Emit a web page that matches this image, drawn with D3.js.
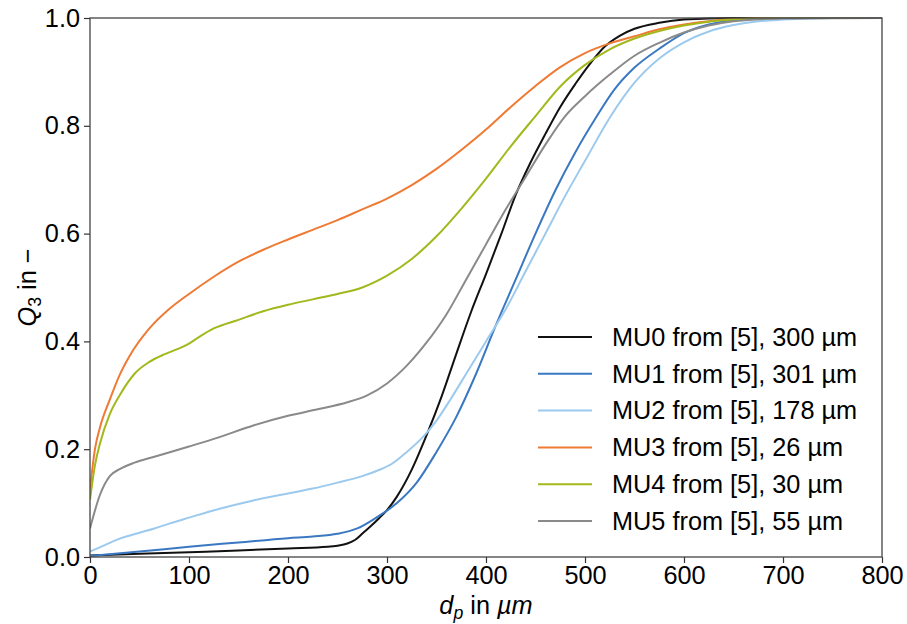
<!DOCTYPE html>
<html>
<head>
<meta charset="utf-8">
<script src="https://cdn.jsdelivr.net/npm/d3@7"></script>
<style>
  html, body { margin: 0; padding: 0; background: #fff; }
  svg text { font-family: "Liberation Sans", Arial, Helvetica, sans-serif; fill: #000; }
</style>
</head>
<body>
<svg id="chart" width="907" height="624"></svg>
<script>
// Particle size distributions Q3(dp) of the MU samples
const seriesNames = [
  "MU0 from [5], 300 µm",
  "MU1 from [5], 301 µm",
  "MU2 from [5], 178 µm",
  "MU3 from [5], 26 µm",
  "MU4 from [5], 30 µm",
  "MU5 from [5], 55 µm"
];
const seriesColors = ["#111111", "#3a78c2", "#9ccaee", "#ef7a34", "#a2b81c", "#8a8a8a"];

// [dp in µm, Q3] pairs
const mu0 = [[0,0.003],[50,0.006],[100,0.009],[150,0.012],[200,0.016],[240,0.019],[250,0.021],[260,0.025],[268,0.032],[276,0.045],[284,0.058],[292,0.072],[300,0.087],[310,0.112],[325,0.162],[340,0.226],[355,0.297],[370,0.377],[385,0.455],[400,0.525],[415,0.597],[430,0.672],[445,0.732],[460,0.785],[475,0.835],[490,0.877],[505,0.915],[520,0.947],[535,0.967],[550,0.98],[575,0.991],[600,0.997],[650,1.0],[800,1.0]];
const mu1 = [[0,0.002],[50,0.01],[100,0.019],[150,0.027],[200,0.035],[225,0.038],[250,0.043],[270,0.053],[290,0.074],[310,0.1],[330,0.138],[350,0.195],[370,0.26],[390,0.34],[410,0.43],[430,0.515],[450,0.6],[470,0.68],[490,0.75],[510,0.812],[530,0.868],[550,0.908],[575,0.943],[600,0.972],[625,0.988],[650,0.996],[700,1.0],[800,1.0]];
const mu2 = [[0,0.01],[15,0.022],[30,0.034],[50,0.045],[65,0.053],[80,0.062],[100,0.073],[130,0.089],[165,0.105],[200,0.118],[225,0.127],[250,0.138],[275,0.15],[290,0.16],[305,0.173],[320,0.195],[335,0.22],[350,0.253],[365,0.295],[380,0.34],[400,0.4],[420,0.46],[440,0.53],[460,0.6],[480,0.67],[500,0.735],[525,0.815],[550,0.88],[575,0.925],[600,0.955],[625,0.975],[650,0.987],[675,0.994],[700,0.997],[750,1.0],[800,1.0]];
const mu3 = [[0,0.125],[5,0.2],[10,0.24],[20,0.292],[30,0.338],[40,0.373],[60,0.424],[80,0.46],[100,0.488],[125,0.52],[150,0.548],[175,0.57],[200,0.589],[225,0.607],[250,0.625],[275,0.645],[300,0.665],[325,0.69],[350,0.72],[375,0.755],[400,0.793],[425,0.835],[450,0.874],[475,0.909],[500,0.935],[525,0.953],[550,0.966],[575,0.979],[600,0.988],[625,0.994],[650,0.998],[700,1.0],[800,1.0]];
const mu4 = [[0,0.106],[5,0.17],[10,0.21],[20,0.265],[30,0.3],[45,0.34],[60,0.362],[75,0.376],[90,0.387],[100,0.396],[110,0.408],[125,0.424],[150,0.44],[175,0.456],[200,0.468],[225,0.478],[250,0.488],[275,0.5],[300,0.522],[325,0.553],[350,0.595],[375,0.646],[400,0.702],[425,0.762],[450,0.818],[475,0.873],[500,0.913],[525,0.942],[550,0.962],[575,0.976],[600,0.986],[625,0.993],[650,0.997],[700,1.0],[800,1.0]];
const mu5 = [[0,0.053],[10,0.115],[20,0.15],[30,0.163],[45,0.175],[65,0.186],[100,0.205],[130,0.222],[165,0.244],[200,0.262],[230,0.274],[260,0.287],[280,0.3],[300,0.322],[320,0.355],[340,0.398],[360,0.45],[380,0.515],[400,0.58],[420,0.645],[440,0.705],[460,0.765],[480,0.818],[500,0.855],[525,0.895],[550,0.93],[575,0.954],[600,0.973],[625,0.986],[650,0.994],[700,0.999],[800,1.0]];
const seriesData = [mu0, mu1, mu2, mu3, mu4, mu5];

const xTicks = [0, 100, 200, 300, 400, 500, 600, 700, 800];
const yTicks = [0.0, 0.2, 0.4, 0.6, 0.8, 1.0];

const margin = { left: 90, right: 25, top: 18, bottom: 67 };
const W = 907, H = 624;
const svg = d3.select("#chart");

const x = d3.scaleLinear().domain([0, 800]).range([margin.left, W - margin.right]);
const y = d3.scaleLinear().domain([0, 1]).range([H - margin.bottom, margin.top]);

const FS = 25.3;

// Clip curves to the axes box
svg.append("clipPath").attr("id", "plotClip")
  .append("rect")
  .attr("x", x(0)).attr("y", y(1) - 2)
  .attr("width", x(800) - x(0)).attr("height", y(0) - y(1) + 2);

const line = d3.line()
  .x(d => x(d[0]))
  .y(d => y(d[1]))
  .curve(d3.curveMonotoneX);

const plot = svg.append("g").attr("clip-path", "url(#plotClip)");
seriesData.forEach((s, i) => {
  plot.append("path")
    .datum(s)
    .attr("fill", "none")
    .attr("stroke", seriesColors[i])
    .attr("stroke-width", 2)
    .attr("stroke-linejoin", "round")
    .attr("d", line);
});

// Axes
const xAxis = svg.append("g")
  .attr("transform", `translate(0,${y(0)})`)
  .call(d3.axisBottom(x).tickValues(xTicks).tickFormat(d3.format("d")).tickSizeOuter(0).tickSize(6).tickPadding(3));
const yAxis = svg.append("g")
  .attr("transform", `translate(${x(0)},0)`)
  .call(d3.axisLeft(y).tickValues(yTicks).tickFormat(d3.format(".1f")).tickSizeOuter(0).tickSize(6).tickPadding(4));
[xAxis, yAxis].forEach(a => {
  a.select(".domain").remove();
  a.selectAll(".tick line").attr("stroke", "#333").attr("stroke-width", 1.2);
  a.selectAll(".tick text").attr("font-size", FS).attr("fill", "#000");
});

// Frame around the plot area
svg.append("rect")
  .attr("x", x(0)).attr("y", y(1))
  .attr("width", x(800) - x(0)).attr("height", y(0) - y(1))
  .attr("fill", "none").attr("stroke", "#444").attr("stroke-width", 1.3);

// Axis titles
const xl = svg.append("text")
  .attr("x", (x(0) + x(800)) / 2).attr("y", 614)
  .attr("text-anchor", "middle").attr("font-size", FS);
xl.append("tspan").attr("font-style", "italic").text("d");
xl.append("tspan").attr("font-style", "italic").attr("font-size", FS * 0.7).attr("dy", 5).text("p");
xl.append("tspan").attr("dy", -5).text(" in ");
xl.append("tspan").attr("font-style", "italic").text("µm");

const yl = svg.append("text")
  .attr("transform", `translate(36,${(y(0) + y(1)) / 2}) rotate(-90)`)
  .attr("text-anchor", "middle").attr("font-size", FS);
yl.append("tspan").attr("font-style", "italic").text("Q");
yl.append("tspan").attr("font-size", FS * 0.7).attr("dy", 5).text("3");
yl.append("tspan").attr("dy", -5).text(" in −");

// Legend
const legend = svg.append("g");
seriesNames.forEach((name, i) => {
  const cy = 337 + i * 36.8;
  legend.append("line")
    .attr("x1", 538).attr("x2", 592).attr("y1", cy).attr("y2", cy)
    .attr("stroke", seriesColors[i]).attr("stroke-width", 2);
  legend.append("text")
    .attr("x", 612).attr("y", cy).attr("dy", "0.35em")
    .attr("font-size", FS).text(name);
});
</script>
</body>
</html>
